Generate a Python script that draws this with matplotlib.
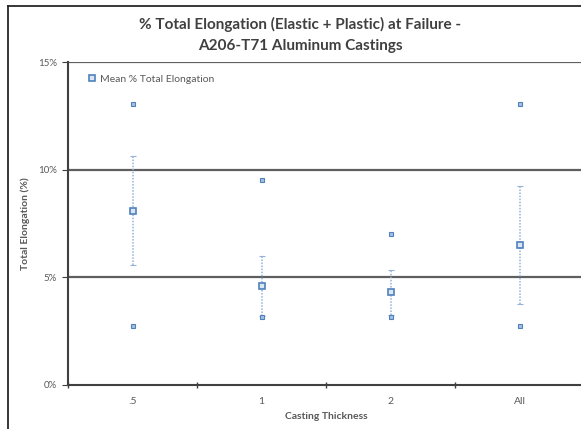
import matplotlib
matplotlib.use('Agg')
import matplotlib.pyplot as plt
from matplotlib.lines import Line2D

plt.rcParams['font.family'] = ['Lato', 'DejaVu Sans']

# elongation at failure by casting thickness (percent)
categories = ['.5', '1', '2', 'All']
mean_elong = [8.1, 4.6, 4.3, 6.5]
std_elong = [2.55, 1.4, 1.05, 2.75]
max_elong = [13.05, 9.5, 7.0, 13.05]
min_elong = [2.75, 3.15, 3.15, 2.75]
y_ticks = [0, 5, 10, 15]

blue = '#4F81BD'
light_blue = '#95B3D7'
grey_text = '#595959'

fig = plt.figure(figsize=(5.81, 4.29), dpi=100)
ax = fig.add_axes([68 / 581, 44 / 429, 516 / 581, 323 / 429])

x = list(range(len(categories)))

# std deviation bars, dotted
eb = ax.errorbar(x, mean_elong, yerr=std_elong, fmt='none', ecolor=light_blue,
                 elinewidth=1.1, capsize=2, capthick=0.8, zorder=3)
for line in eb[2]:
    line.set_linestyle((0, (1, 1)))

ax.plot(x, mean_elong, linestyle='none', marker='s', markersize=5,
        markerfacecolor='#DCE6F2', markeredgecolor=blue, markeredgewidth=1.2,
        zorder=4, label='Mean % Total Elongation')
ax.plot(x, max_elong, linestyle='none', marker='s', markersize=3.2,
        markerfacecolor='#A7BFE0', markeredgecolor=blue, markeredgewidth=0.8, zorder=4)
ax.plot(x, min_elong, linestyle='none', marker='s', markersize=3.2,
        markerfacecolor='#A7BFE0', markeredgecolor=blue, markeredgewidth=0.8, zorder=4)

ax.set_xlim(-0.5, len(categories) - 0.5)
ax.set_ylim(0, 15)

# horizontal gridlines
for yv in y_ticks[1:]:
    ax.axhline(yv, color='#5F5F5F', linewidth=1.6, zorder=1)

ax.set_yticks(y_ticks)
ax.set_yticklabels(['%d%%' % v for v in y_ticks])
ax.set_xticks(x)
ax.set_xticklabels(categories)
ax.set_xticks([i + 0.5 for i in range(-1, len(categories))], minor=True)
ax.tick_params(axis='x', which='major', length=0, pad=9, labelsize=7.5, colors=grey_text)
ax.tick_params(axis='x', which='minor', length=4, direction='inout', color='#404040', width=1)
ax.tick_params(axis='y', length=4, direction='out', pad=4, labelsize=7, colors=grey_text)
ax.tick_params(axis='y', color='#404040')

for side in ['top', 'right']:
    ax.spines[side].set_visible(False)
for side in ['left', 'bottom']:
    ax.spines[side].set_color('#404040')
    ax.spines[side].set_linewidth(1.5)

ax.set_xlabel('Casting Thickness', fontsize=7.5, fontweight='bold', color=grey_text, labelpad=4)
ax.set_ylabel('Total Elongation (%)', fontsize=7.5, fontweight='bold', color=grey_text, labelpad=6)

leg = ax.legend(loc='upper left', bbox_to_anchor=(0.02, 0.99), frameon=False,
                fontsize=7.5, handlelength=0.8, handletextpad=0.4, markerscale=0.9)
for t in leg.get_texts():
    t.set_color(grey_text)

fig.text(300 / 581, 1 - 24 / 429, '% Total Elongation (Elastic + Plastic) at Failure -',
         ha='center', va='center', fontsize=11, fontweight='bold', color='#404040')
fig.text(300 / 581, 1 - 46 / 429, 'A206-T71 Aluminum Castings',
         ha='center', va='center', fontsize=11, fontweight='bold', color='#404040')

# chart area border (left and top edges)
fig.add_artist(Line2D([7.5 / 581, 7.5 / 581], [0, 1 - 6 / 429], transform=fig.transFigure,
                      color='#262626', linewidth=1.3))
fig.add_artist(Line2D([7.5 / 581, 1], [1 - 6 / 429, 1 - 6 / 429], transform=fig.transFigure,
                      color='#262626', linewidth=1.3))

fig.savefig('out.png', dpi=100)
